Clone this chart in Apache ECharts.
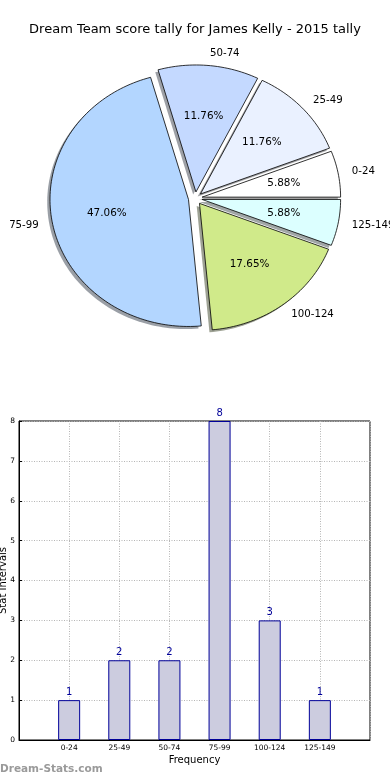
<!DOCTYPE html>
<html>
<head>
<meta charset="utf-8">
<script src="https://cdn.jsdelivr.net/npm/echarts@6/dist/echarts.min.js"></script>
<style>html,body{margin:0;padding:0;background:#fff}#c{width:390px;height:780px}</style>
</head>
<body>
<div id="c"></div>
<script>
const titleText = 'Dream Team score tally for James Kelly - 2015 tally';
const categories = ['0-24', '25-49', '50-74', '75-99', '100-124', '125-149'];
const counts = [1, 2, 2, 8, 3, 1];
const sliceColors = ['#ffffff', '#eaf1ff', '#c4d9ff', '#b3d6ff', '#d0ea8a', '#dcffff'];
const yTicks = [0, 1, 2, 3, 4, 5, 6, 7, 8];
const xAxisName = 'Frequency';
const yAxisName = 'Stat Intervals';
const watermark = 'Dream-Stats.com';

const FONT = 'DejaVu Sans';
// pie geometry (matplotlib-style elliptical pie, all wedges exploded)
const PIE = { cx: 195.3, cy: 198.3, rx: 138.5, ry: 127, explode: 0.05, pct: 0.6, lab: 1.1, shadow: 0.02 };
const total = counts.reduce((a, b) => a + b, 0);
const cum = counts.map((_, i) => counts.slice(0, i).reduce((a, b) => a + b, 0));

function hexToRgb(h) {
  const n = parseInt(h.slice(1), 16);
  return [(n >> 16) & 255, (n >> 8) & 255, n & 255];
}

function renderSlice(params, api) {
  const i = params.dataIndex;
  const v = api.value(0);
  const a0 = cum[i] / total * 360;
  const a1 = a0 + v / total * 360;
  const mid = (a0 + a1) / 2 * Math.PI / 180;
  const ox = PIE.cx + PIE.explode * PIE.rx * Math.cos(mid);
  const oy = PIE.cy - PIE.explode * PIE.ry * Math.sin(mid);
  const pts = [[ox, oy]];
  const n = Math.max(8, Math.ceil((a1 - a0) / 1.5));
  for (let k = 0; k <= n; k++) {
    const a = (a0 + (a1 - a0) * k / n) * Math.PI / 180;
    pts.push([ox + PIE.rx * Math.cos(a), oy - PIE.ry * Math.sin(a)]);
  }
  const sdx = -PIE.shadow * PIE.rx, sdy = PIE.shadow * PIE.ry;
  const spts = pts.map(p => [p[0] + sdx, p[1] + sdy]);
  const rgb = hexToRgb(sliceColors[i]);
  const shadowFill = 'rgba(' + rgb.map(c => Math.round(c * 0.3)).join(',') + ',0.5)';
  const cosm = Math.cos(mid), sinm = Math.sin(mid);
  return {
    type: 'group',
    children: [
      { type: 'polygon', z2: 0, shape: { points: spts }, style: { fill: shadowFill } },
      { type: 'polygon', z2: 1, shape: { points: pts },
        style: { fill: sliceColors[i], stroke: '#000', lineWidth: 0.8 } },
      { type: 'text', z2: 2, x: ox + PIE.pct * PIE.rx * cosm, y: oy - PIE.pct * PIE.ry * sinm,
        style: { text: (v / total * 100).toFixed(2) + '%', align: 'center', verticalAlign: 'middle',
          font: '10.4px "DejaVu Sans"', fill: '#000' } },
      { type: 'text', z2: 2, x: ox + PIE.lab * PIE.rx * cosm, y: oy - PIE.lab * PIE.ry * sinm,
        style: { text: categories[i], align: cosm > 0 ? 'left' : 'right', verticalAlign: 'middle',
          font: '10.2px "DejaVu Sans"', fill: '#000' } }
    ]
  };
}

const barCats = [''].concat(categories, ['']);
const barVals = [null].concat(counts, [null]);

const chart = echarts.init(document.getElementById('c'), null, { renderer: 'canvas' });
chart.setOption({
  animation: false,
  backgroundColor: '#ffffff',
  textStyle: { fontFamily: FONT },
  title: {
    text: titleText, left: 'center', top: 18,
    textStyle: { fontFamily: FONT, fontSize: 13, fontWeight: 'normal', color: '#000' }
  },
  graphic: [{
    type: 'text', left: 0, top: 764,
    style: { text: watermark, font: 'bold 10.5px "DejaVu Sans"', fill: '#9a9a9a' }
  }],
  grid: {
    left: 19, right: 20, top: 421, bottom: 40, outerBoundsMode: 'none', containLabel: false,
    show: true, borderColor: '#000', borderWidth: 1, backgroundColor: 'transparent'
  },
  xAxis: {
    type: 'category', data: barCats, boundaryGap: false,
    name: xAxisName, nameLocation: 'middle', nameGap: 15, nameMoveOverlap: false,
    nameTextStyle: { fontFamily: FONT, fontSize: 10, color: '#000' },
    axisLine: { show: true, lineStyle: { color: '#000' } },
    axisTick: { show: false },
    axisLabel: { fontFamily: FONT, fontSize: 7.5, color: '#000', margin: 4, interval: 0 },
    splitLine: { show: true, lineStyle: { color: '#b5b5b5', type: [1, 1.5] } }
  },
  yAxis: {
    type: 'value', min: 0, max: 8, interval: 1,
    name: yAxisName, nameLocation: 'middle', nameGap: 11, nameMoveOverlap: false,
    nameTextStyle: { fontFamily: FONT, fontSize: 10, color: '#000' },
    axisLine: { show: true, lineStyle: { color: '#000' } },
    axisTick: { show: true, inside: true, length: 3, lineStyle: { color: '#000' } },
    axisLabel: { fontFamily: FONT, fontSize: 7.5, color: '#000', margin: 4,
      formatter: v => yTicks.indexOf(v) >= 0 ? String(v) : '' },
    splitLine: { show: true, lineStyle: { color: '#b5b5b5', type: [1, 1.5] } }
  },
  series: [
    {
      type: 'custom', coordinateSystem: 'none', silent: true,
      renderItem: renderSlice,
      data: counts.map(v => [v]), z: 2
    },
    {
      type: 'bar', data: barVals, barWidth: 22,
      itemStyle: { color: '#ccccdf', borderColor: '#000099', borderWidth: 1 },
      label: { show: true, position: 'top', distance: 3, fontFamily: FONT, fontSize: 10, color: '#000099' },
      z: 3
    }
  ]
});
</script>
</body>
</html>
